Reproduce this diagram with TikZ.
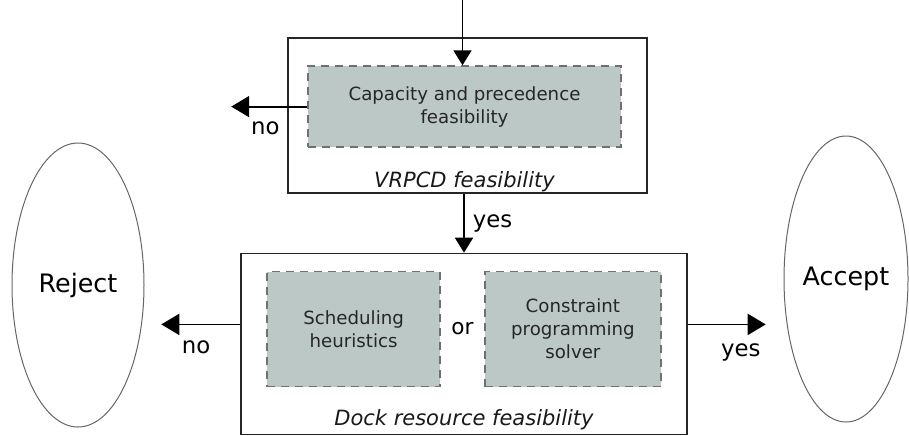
\documentclass[tikz,border=0pt]{standalone}
\usepackage{fontspec}
\setmainfont{DejaVu Sans}
\usetikzlibrary{arrows.meta, positioning, shapes.geometric}

\definecolor{checkfill}{RGB}{188,200,198}
\definecolor{checkdraw}{RGB}{112,112,112}

\begin{document}
\begin{tikzpicture} [node distance=29.5pt,
		% define styles
		stagenodestyle/.style={
			% The shape:
			rectangle,
			% The border:
			draw=black!85,
			line width=0.7pt,
			inner sep=0pt
		},
		checknodestyle/.style={
			% The shape:
			rectangle,
			inner sep=0pt,
			% The border:
			dashed,
			dash pattern=on 4pt off 3pt,
			line width=0.8pt,
			draw=checkdraw,
			% The filling:
			fill=checkfill,
			% Text
			align=center,
			text=black!85,
			font=\fontsize{9.1}{11.4}\selectfont
		},
		captionstyle/.style={
			inner sep=0pt,
			text=black!90,
			font=\fontsize{10.5}{12}\selectfont\itshape
		},
		outcomenodestyle/.style={
			% The shape:
			ellipse,
			inner sep=0pt,
			% The border:
			draw=black!60,
			line width=0.5pt,
			% Font
			font=\fontsize{12.7}{14}\selectfont
		},
		arrow/.style={
			-{Triangle[length=7.5pt, width=9pt]},
			% Thickness
			line width=0.9pt,
			% Color
			black,
			text=black,
			font=\fontsize{11.4}{13}\selectfont
		},
		arrowdecision/.style={
			-{Triangle[length=9pt, width=10.5pt]},
			% Thickness
			line width=0.9pt,
			% Color
			black,
			text=black,
			font=\fontsize{11.4}{13}\selectfont
		},
		edgelabel/.style={
			inner sep=0pt
		}]
		% end of style definition

		\useasboundingbox (0,0) rectangle (454.5pt,-217.5pt);

		% draw nodes
		\node (iVrpcd) [stagenodestyle, minimum width=179.5pt, minimum height=77.5pt] at (233.75pt,-57.75pt) {};
		\node (iCapacity) [checknodestyle, minimum width=156.5pt, minimum height=40.5pt, below = 14pt of iVrpcd.north, xshift=-1.5pt] {Capacity and precedence\\feasibility};
		\node (iVrpcdLabel) [captionstyle, above = 0.5pt of iVrpcd.south, xshift=-1.5pt] {VRPCD feasibility};

		\node (iDock) [stagenodestyle, minimum width=223pt, minimum height=90.5pt, below = of iVrpcd, xshift=-1.75pt] {};
		\node (iSched) [checknodestyle, minimum width=86.5pt, minimum height=57.5pt, below right = 9pt and 13pt of iDock.north west] {Scheduling\\heuristics};
		\node (iSolver) [checknodestyle, minimum width=88pt, minimum height=57.5pt, below left = 9pt and 13pt of iDock.north east] {Constraint\\programming\\solver};
		\node (iOr) [edgelabel, font=\fontsize{10.8}{12}\selectfont, right = 5pt of iSched] {or};
		\node (iDockLabel) [captionstyle, above = 2.5pt of iDock.south] {Dock resource feasibility};

		\node (iReject) [outcomenodestyle, minimum width=66pt, minimum height=142pt] at (39pt,-142.5pt) {Reject};
		\node (iAccept) [outcomenodestyle, minimum width=62pt, minimum height=143pt] at (423pt,-139.5pt) {Accept};

		% free ends of the connectors
		\coordinate (iEntry) at ([xshift=-1pt, yshift=33pt]iCapacity.north);
		\coordinate (iNoEnd1) at ([xshift=-38pt]iCapacity.west);
		\coordinate (iNoStart2) at ([yshift=9.75pt]iDock.west);
		\coordinate (iNoEnd2) at ([xshift=-39.5pt, yshift=9.75pt]iDock.west);
		\coordinate (iYesStart2) at ([yshift=9.75pt]iDock.east);
		\coordinate (iYesEnd2) at ([xshift=39pt, yshift=9.75pt]iDock.east);

		% connect nodes
		\draw [arrow] (iEntry) -- (iEntry |- iCapacity.north);
		\draw [arrowdecision] (iCapacity.west) -- node[edgelabel, below=7pt, pos=0.55] {no} (iNoEnd1);
		\draw [arrow] (iVrpcd.south -| iDock.north) -- node[edgelabel, right=4pt] {yes} (iDock.north);
		\draw [arrowdecision] (iNoStart2) -- node[edgelabel, below=7.5pt, pos=0.56] {no} (iNoEnd2);
		\draw [arrowdecision] (iYesStart2) -- node[edgelabel, below=9pt, pos=0.68] {yes} (iYesEnd2);
	\end{tikzpicture}
\end{document}
